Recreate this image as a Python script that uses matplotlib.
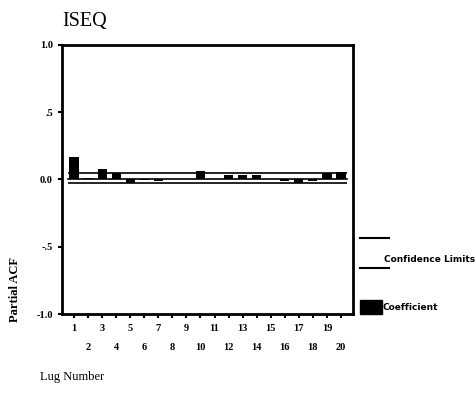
import matplotlib
matplotlib.use("Agg")
import matplotlib.pyplot as plt
from matplotlib.lines import Line2D
from matplotlib.patches import Rectangle

# partial autocorrelation coefficients
lags = list(range(1, 21))
pacf = [0.165, 0.01, 0.078, 0.048, -0.03, -0.005, -0.012, 0.005, 0.0, 0.065,
        0.005, 0.035, 0.035, 0.03, 0.005, -0.01, -0.03, -0.015, 0.045, 0.055]
conf_upper = 0.045
conf_lower = -0.03
ytick_vals = [-1.0, -0.5, 0.0, 0.5, 1.0]
ytick_labels = ["-1.0", "-.5", "0.0", ".5", "1.0"]

plt.rcParams["font.family"] = ["Liberation Serif", "DejaVu Serif"]

fig = plt.figure(figsize=(4.77, 3.97), dpi=100)
ax = fig.add_axes([0.130, 0.209, 0.610, 0.678])

ax.bar(lags, pacf, width=0.65, color="black")
ax.axhline(0, color="black", lw=1.2, xmin=0.02, xmax=0.98)
ax.hlines([conf_upper], 0.6, 20.4, color="black", lw=1.2)
ax.hlines([conf_lower], 0.6, 20.4, color="black", lw=1.2)

ax.set_xlim(0.15, 20.85)
ax.set_ylim(-1.0, 1.0)
ax.set_yticks(ytick_vals)
ax.set_yticklabels(ytick_labels, fontsize=7.5, fontweight="bold")
ax.set_xticks(lags)
ax.set_xticklabels([])
for lag in lags:
    ypos = -0.055 if lag % 2 else -0.125
    ax.text(lag, ypos, str(lag), transform=ax.get_xaxis_transform(),
            ha="center", va="center", fontsize=7.5, fontweight="bold")
ax.tick_params(direction="out", length=3, width=1.5)
for s in ax.spines.values():
    s.set_linewidth(2)

fig.text(0.130, 0.945, "ISEQ", fontsize=14.5, ha="left", va="center")
fig.text(0.032, 0.27, "Partial ACF", rotation=90, fontsize=9,
         fontweight="bold", ha="center", va="center")
fig.text(0.084, 0.05, "Lug Number", fontsize=9, ha="left", va="center")

# legend built by hand at the right
fig.add_artist(Line2D([0.755, 0.815], [0.40, 0.40], color="black", lw=1.5))
fig.add_artist(Line2D([0.755, 0.815], [0.325, 0.325], color="black", lw=1.5))
fig.text(0.805, 0.347, "Confidence Limits", fontsize=6.5, fontweight="bold",
         ha="left", va="center", family="DejaVu Sans")
fig.add_artist(Rectangle((0.755, 0.21), 0.046, 0.035, color="black",
                         transform=fig.transFigure))
fig.text(0.801, 0.225, "Coefficient", fontsize=6.5, fontweight="bold",
         ha="left", va="center", family="DejaVu Sans")

fig.savefig("out.png", dpi=100)
